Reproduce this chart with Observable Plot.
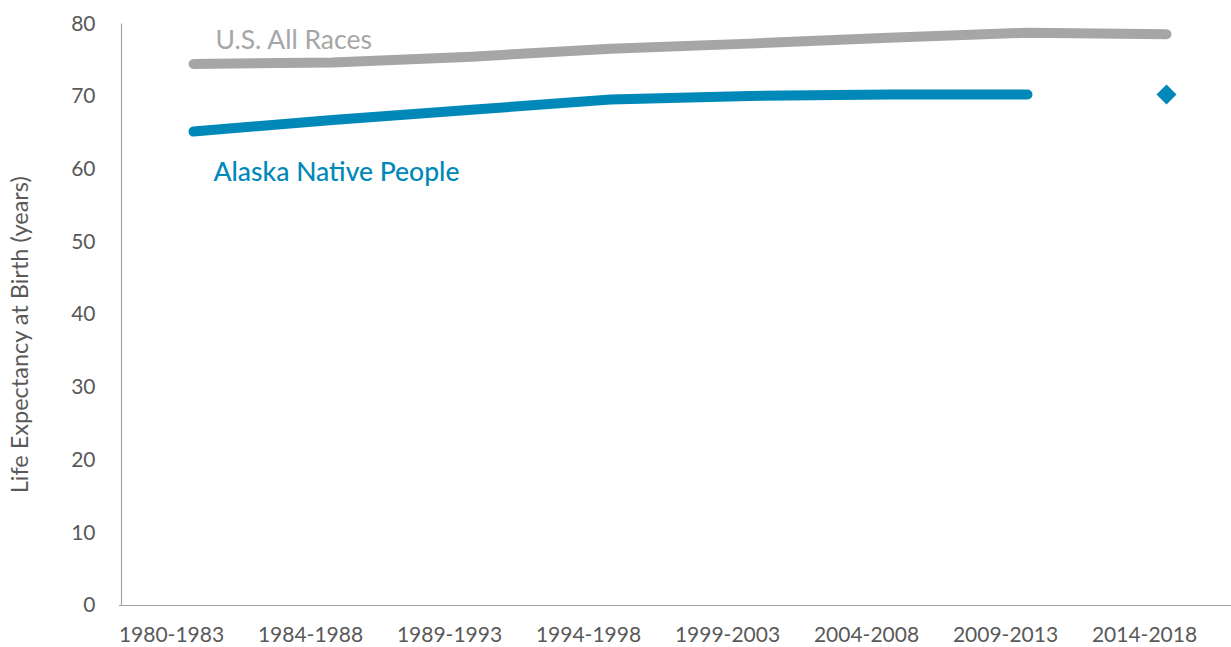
<!DOCTYPE html>
<html><head><meta charset="utf-8">
<script src="https://cdn.jsdelivr.net/npm/d3@7"></script>
<script src="https://cdn.jsdelivr.net/npm/@observablehq/plot@0.6"></script>
<style>
body{margin:0;background:#fff;}
#chart svg{display:block;}
</style>
</head><body><div id="chart"></div>
<script>
const periods = ["1980-1983","1984-1988","1989-1993","1994-1998","1999-2003","2004-2008","2009-2013","2014-2018"];
const usAllRaces = [74.5, 74.7, 75.5, 76.6, 77.3, 78.1, 78.8, 78.6];
const alaskaNative = [65.2, 66.8, 68.2, 69.6, 70.1, 70.3, 70.3];
const alaskaNativeLatest = [{period: "2014-2018", value: 70.3}];
const yTicks = [0, 10, 20, 30, 40, 50, 60, 70, 80];
const seriesNames = ["U.S. All Races", "Alaska Native People"];
const yLabel = "Life Expectancy at Birth (years)";

const gray = "#a6a6a6", blue = "#0088b9", ink = "#595959", axisColor = "#a3a39f";
const font = "Lato, 'Noto Sans', sans-serif";

const usData = periods.map((p, i) => ({period: p, value: usAllRaces[i]}));
const anData = alaskaNative.map((v, i) => ({period: periods[i], value: v}));

const chart = Plot.plot({
  width: 1231,
  height: 647,
  marginLeft: 119,
  marginRight: 0,
  marginTop: 23.5,
  marginBottom: 42,
  style: {fontFamily: font, background: "#fff", overflow: "visible"},
  x: {type: "point", domain: periods, range: [190, 1168], padding: 0, axis: null},
  y: {domain: [0, 80], axis: null},
  marks: [
    Plot.ruleY([0], {stroke: axisColor, strokeWidth: 1.2}),
    Plot.ruleX([periods[0]], {y1: 0, y2: 80, dx: -72, stroke: axisColor, strokeWidth: 1.2}),
    Plot.axisY(yTicks, {tickSize: 0, tickPadding: 24, fontSize: 21, fill: ink, label: null}),
    Plot.axisX(periods, {tickSize: 0, tickPadding: 22, dx: -22, fontSize: 21, fill: ink, label: null}),
    Plot.text([yLabel], {frameAnchor: "left", textAnchor: "middle", rotate: -90, dx: -99, dy: 20, fontSize: 23.5, fill: ink}),
    Plot.lineY(usData, {x: "period", y: "value", stroke: gray, strokeWidth: 10, strokeLinecap: "round", strokeLinejoin: "round"}),
    Plot.lineY(anData, {x: "period", y: "value", stroke: blue, strokeWidth: 10, strokeLinecap: "round", strokeLinejoin: "round"}),
    Plot.dot(alaskaNativeLatest, {x: "period", y: "value", symbol: "diamond2", r: 9, fill: blue, stroke: null}),
    Plot.text([usData[0]], {x: "period", y: "value", text: () => seriesNames[0], textAnchor: "start", dx: 22, dy: -23, fontSize: 26.5, fill: gray}),
    Plot.text([anData[0]], {x: "period", y: "value", text: () => seriesNames[1], textAnchor: "start", dx: 20, dy: 41, fontSize: 26.5, fill: blue, fontWeight: 500})
  ]
});
document.getElementById("chart").appendChild(chart);
</script>
</body></html>
